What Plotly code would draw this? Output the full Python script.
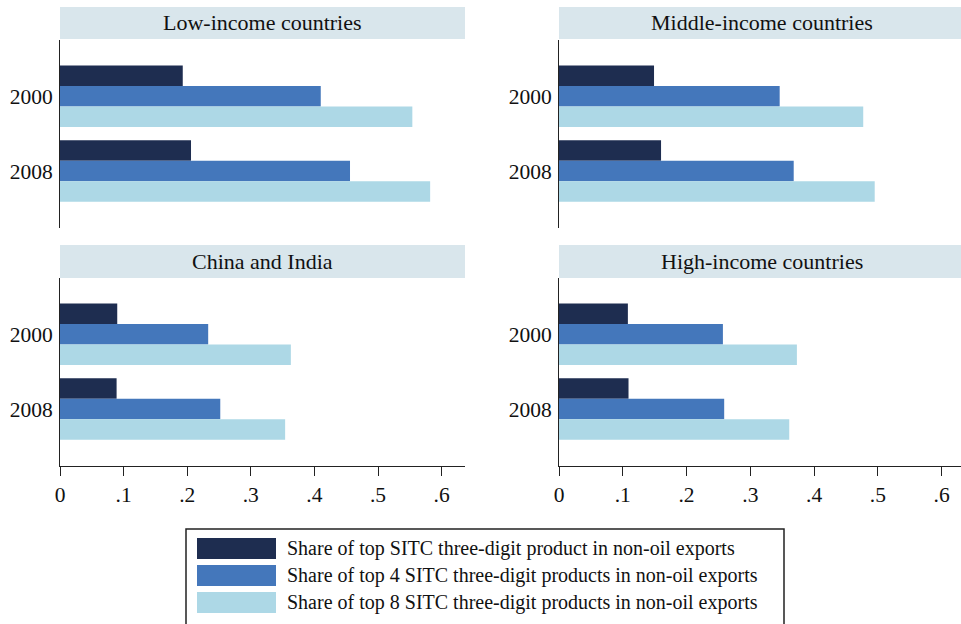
import plotly.graph_objects as go

W, H = 961, 624

years = ["2000", "2008"]
panels = ["Low-income countries", "Middle-income countries",
          "China and India", "High-income countries"]
series_names = [
    "Share of top SITC three-digit product in non-oil exports",
    "Share of top 4 SITC three-digit products in non-oil exports",
    "Share of top 8 SITC three-digit products in non-oil exports",
]
# values per panel: [2000, 2008]
top1 = [[0.193, 0.206], [0.149, 0.160], [0.090, 0.089], [0.108, 0.109]]
top4 = [[0.410, 0.456], [0.346, 0.368], [0.233, 0.252], [0.257, 0.259]]
top8 = [[0.554, 0.582], [0.477, 0.495], [0.363, 0.354], [0.373, 0.361]]
series_values = [top1, top4, top8]
colors = ["#1e2d50", "#4477bb", "#add8e6"]
x_tickvals = [0, 0.1, 0.2, 0.3, 0.4, 0.5, 0.6]
x_ticktext = ["0", ".1", ".2", ".3", ".4", ".5", ".6"]

FONT = "Liberation Serif"
HEADER_BG = "#d9e6ec"


def px_x(p):
    return p / W


def px_y(p):
    return 1 - p / H


# panel pixel geometry: (x0, x1, y_top, y_bottom)
geom = [
    (60, 465, 40, 228),
    (559, 961, 40, 228),
    (60, 465, 278, 466),
    (559, 961, 278, 466),
]
x_ranges = [[0, 0.6368], [0, 0.6303], [0, 0.6368], [0, 0.6303]]

fig = go.Figure()
for i in range(4):
    ax = "" if i == 0 else str(i + 1)
    for s in range(3):
        fig.add_trace(go.Bar(
            x=series_values[s][i], y=years, orientation="h",
            name=series_names[s], marker=dict(color=colors[s], line=dict(width=0)),
            xaxis="x" + ax, yaxis="y" + ax, showlegend=False,
        ))
    x0, x1, yt, yb = geom[i]
    bottom = i >= 2
    fig.layout["xaxis" + ax] = dict(
        domain=[px_x(x0), min(1.0, px_x(x1))], anchor="y" + ax,
        range=x_ranges[i], showgrid=False, zeroline=False, automargin=False,
        showline=bottom, linecolor="#222", linewidth=1,
        ticks="outside" if bottom else "", ticklen=9, tickcolor="#222",
        tickvals=x_tickvals, ticktext=x_ticktext, showticklabels=bottom,
        tickfont=dict(family=FONT, size=21.5, color="#111"),
    )
    fig.layout["yaxis" + ax] = dict(
        domain=[px_y(yb), px_y(yt)], anchor="x" + ax, type="category",
        range=[1.76, -0.75], showgrid=False, zeroline=False, automargin=False,
        showline=True, linecolor="#222", linewidth=1, ticks="",
        ticklabelstandoff=2,
        tickfont=dict(family=FONT, size=21.5, color="#111"),
    )

shapes = []
annotations = []
headers = [(60, 465, 7, 39), (559, 975, 7, 39), (60, 465, 245, 278), (559, 975, 245, 278)]
for i, (hx0, hx1, hy0, hy1) in enumerate(headers):
    shapes.append(dict(type="rect", xref="paper", yref="paper",
                       x0=px_x(hx0), x1=px_x(hx1), y0=px_y(hy1), y1=px_y(hy0),
                       fillcolor=HEADER_BG, line=dict(width=0), layer="below"))
    cx = (hx0 + min(hx1, 964)) / 2
    annotations.append(dict(text=panels[i], xref="paper", yref="paper",
                            x=px_x(cx), y=px_y((hy0 + hy1) / 2),
                            xanchor="center", yanchor="middle", showarrow=False,
                            font=dict(family=FONT, size=22, color="#111")))

# legend box
shapes.append(dict(type="rect", xref="paper", yref="paper",
                   x0=px_x(186), x1=px_x(784), y0=px_y(630), y1=px_y(529),
                   line=dict(color="#222", width=1.5), fillcolor="rgba(0,0,0,0)"))
row_centers = [548.5, 575.5, 602.5]
for s in range(3):
    c = row_centers[s]
    shapes.append(dict(type="rect", xref="paper", yref="paper",
                       x0=px_x(197), x1=px_x(276), y0=px_y(c + 10.5), y1=px_y(c - 10.5),
                       fillcolor=colors[s], line=dict(width=0)))
    annotations.append(dict(text=series_names[s], xref="paper", yref="paper",
                            x=px_x(285), y=px_y(c), xanchor="left", yanchor="middle",
                            showarrow=False,
                            font=dict(family=FONT, size=20, color="#111")))

fig.update_layout(
    width=W, height=H, margin=dict(l=0, r=0, t=0, b=0),
    paper_bgcolor="white", plot_bgcolor="white",
    barmode="group", bargap=0.18, bargroupgap=0,
    shapes=shapes, annotations=annotations, showlegend=False,
)

fig.write_html(
    "out.html",
    config={"displayModeBar": False},
    post_script="document.body.style.margin='0';document.body.style.overflow='hidden';",
)
